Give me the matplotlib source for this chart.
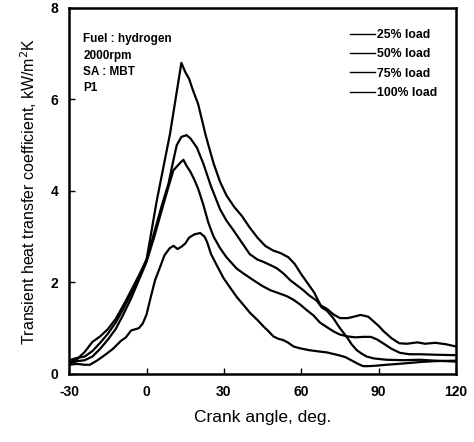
######################
# Importar librerías #
######################

import matplotlib
matplotlib.use('Agg')
import matplotlib.pyplot as plt

##########
# Datos  #
##########

ca_100 = [-30, -27, -24, -21, -18, -15, -12, -9, -6, -3, 0, 4, 9.1, 13.5, 15, 16.5, 18, 20, 23, 26,
          28.5, 31, 34, 37, 40, 43, 46, 49, 52, 55, 57.5, 60, 62.5, 65, 67.5, 70, 72.5, 75, 78, 81,
          83, 86, 88, 90, 92, 95, 98, 101, 105, 108, 112, 116, 120]
h_100 = [0.25, 0.32, 0.48, 0.7, 0.82, 0.98, 1.2, 1.5, 1.82, 2.15, 2.5, 3.8, 5.25, 6.8, 6.6, 6.45, 6.2, 5.9, 5.2, 4.6,
         4.2, 3.9, 3.65, 3.45, 3.2, 2.98, 2.8, 2.7, 2.64, 2.55, 2.4, 2.18, 1.98, 1.78, 1.5, 1.42, 1.3, 1.22, 1.22, 1.26,
         1.29, 1.25, 1.15, 1.05, 0.93, 0.78, 0.67, 0.66, 0.69, 0.66, 0.68, 0.65, 0.6]

ca_75 = [-30, -27, -24, -21, -18, -15, -12, -9, -6, -3, 0, 3, 6, 8.5, 10.4, 11.7, 13.5, 15.5, 17, 19.5,
         22, 25, 28.5, 31, 33.7, 36, 40, 43, 45.3, 48, 50.5, 53, 55.7, 58, 60.8, 63, 66, 68, 70, 72.4,
         75, 77.6, 79.5, 81.5, 83.5, 85.4, 88, 93, 100, 106, 112, 120]
h_75 = [0.3, 0.35, 0.38, 0.5, 0.68, 0.88, 1.12, 1.42, 1.75, 2.1, 2.5, 3.1, 3.7, 4.16, 4.67, 5.0, 5.18, 5.22, 5.15, 4.95,
        4.6, 4.1, 3.6, 3.35, 3.14, 2.95, 2.62, 2.5, 2.45, 2.38, 2.31, 2.2, 2.05, 1.95, 1.83, 1.72, 1.6, 1.45, 1.38, 1.22,
        1.0, 0.81, 0.65, 0.52, 0.44, 0.38, 0.34, 0.31, 0.3, 0.31, 0.29, 0.27]

ca_50 = [-30, -27, -24, -21, -18, -15, -12, -9, -6, -3, 0, 3, 6, 8.5, 10.4, 12, 13.3, 14.3, 15.5, 17,
         18.5, 20, 22, 24, 26, 28.5, 31, 35, 38, 41.4, 45, 48, 51, 54.4, 57, 59.5, 62, 64.7, 67.3, 70,
         72.5, 75, 78, 81, 84, 87, 89.5, 92, 95, 98.3, 102, 106, 112, 120]
h_50 = [0.22, 0.28, 0.3, 0.38, 0.55, 0.75, 0.98, 1.3, 1.65, 2.05, 2.45, 3.0, 3.6, 4.09, 4.45, 4.55, 4.63, 4.68, 4.55, 4.42,
        4.25, 4.05, 3.7, 3.3, 3.0, 2.75, 2.55, 2.3, 2.18, 2.05, 1.92, 1.83, 1.77, 1.7, 1.62, 1.52, 1.4, 1.28, 1.12, 1.02,
        0.93, 0.86, 0.82, 0.8, 0.81, 0.81, 0.75, 0.66, 0.55, 0.46, 0.43, 0.43, 0.42, 0.41]

ca_25 = [-30, -27, -24, -22, -19, -16, -13, -10, -8, -6, -3, -1.5, 0, 1.5, 3.3, 5, 7, 9, 10.5, 12,
         13.5, 15, 16.5, 18.5, 20.8, 22.5, 23.5, 25, 27, 29.8, 32, 35, 38, 40.2, 43, 45.3, 47, 49.2, 51, 53,
         55, 57, 59.5, 63, 67, 70, 73.7, 77, 80, 82, 84, 86, 89, 93, 100, 106, 112, 120]
h_25 = [0.2, 0.22, 0.2, 0.2, 0.3, 0.42, 0.55, 0.72, 0.8, 0.95, 1.0, 1.1, 1.3, 1.65, 2.05, 2.3, 2.6, 2.75, 2.8, 2.73,
        2.78, 2.85, 2.98, 3.05, 3.08, 3.0, 2.88, 2.62, 2.4, 2.1, 1.92, 1.68, 1.48, 1.33, 1.18, 1.04, 0.95, 0.82, 0.77, 0.74,
        0.68, 0.6, 0.56, 0.52, 0.49, 0.47, 0.42, 0.37, 0.28, 0.22, 0.17, 0.17, 0.18, 0.2, 0.23, 0.26, 0.28, 0.29]

cargas = ['25% load', '50% load', '75% load', '100% load']
notas = ['Fuel : hydrogen', '2000rpm', 'SA : MBT', 'P1']
xticks = [-30, 0, 30, 60, 90, 120]
yticks = [0, 2, 4, 6, 8]

###########
# Gráfica #
###########

plt.rcParams['font.family'] = ['Liberation Sans', 'DejaVu Sans']
plt.rcParams['axes.unicode_minus'] = False

fig = plt.figure(figsize=(4.74, 4.42), dpi=100)
ax = fig.add_axes([0.146, 0.154, 0.816, 0.828])

series = [(ca_25, h_25), (ca_50, h_50), (ca_75, h_75), (ca_100, h_100)]
for (x, y), nombre in zip(series, cargas):
    ax.plot(x, y, color='black', lw=1.6, label=nombre)

ax.set_xlim(-30, 120)
ax.set_ylim(0, 8)
ax.set_xticks(xticks)
ax.set_yticks(yticks)
ax.tick_params(direction='in', length=4, width=1, pad=8, labelsize=10)
for lab in ax.get_xticklabels() + ax.get_yticklabels():
    lab.set_fontweight('bold')
for s in ax.spines.values():
    s.set_linewidth(1.8)

ax.set_xlabel('Crank angle, deg.', fontsize=12.5, labelpad=8)
ax.set_ylabel('Transient heat transfer coefficient, kW/m$^2$K', fontsize=11.5, labelpad=8)

for i, t in enumerate(notas):
    ax.text(0.036, 0.915 - i * 0.045, t, transform=ax.transAxes, fontsize=8.5,
            fontweight='bold', va='center')

leg = ax.legend(loc='upper left', frameon=False, fontsize=8.8, handlelength=2.1,
                handletextpad=0.15, labelspacing=0.6, borderpad=0.4,
                bbox_to_anchor=(0.697, 0.973))
for t in leg.get_texts():
    t.set_fontweight('bold')
for l in leg.get_lines():
    l.set_linewidth(1.0)

fig.savefig('out.png', dpi=100)
